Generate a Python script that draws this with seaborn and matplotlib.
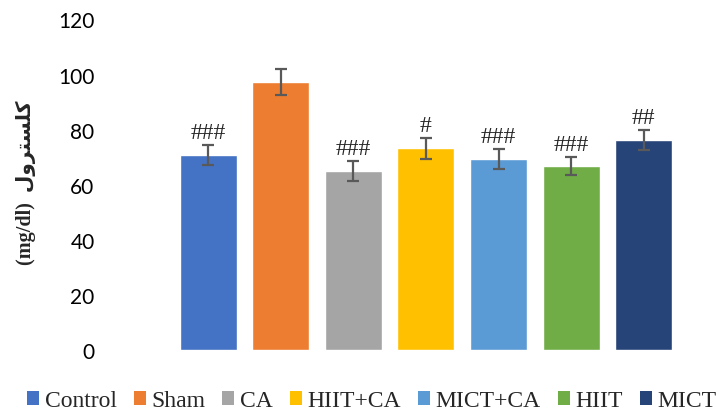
import numpy as np
import pandas as pd
import seaborn as sns
import matplotlib.pyplot as plt
from matplotlib.patches import Patch
from matplotlib.font_manager import FontProperties

groups = ["Control", "Sham", "CA", "HIIT+CA", "MICT+CA", "HIIT", "MICT"]
values = [70.8, 97.3, 65.0, 73.3, 69.4, 66.8, 76.3]
errors = [3.6, 4.8, 3.5, 3.8, 3.6, 3.4, 3.7]
marks = ["###", "", "###", "#", "###", "###", "##"]
colors = ["#4472C4", "#ED7D31", "#A5A5A5", "#FFC000", "#5B9BD5", "#70AD47", "#264478"]
yticks = [0, 20, 40, 60, 80, 100, 120]

df = pd.DataFrame({"group": groups, "value": values, "err": errors})

sns.set_style("white")
plt.rcParams['font.family'] = ['Lato', 'DejaVu Sans']

fig = plt.figure(figsize=(7.16, 4.14), dpi=100)
ax = fig.add_axes([105 / 716, 63 / 414, 600 / 716, 330.5 / 414])

sns.barplot(data=df, x="group", y="value", hue="group", order=groups,
            palette=colors, saturation=1, width=0.786, legend=False,
            errorbar=None, ax=ax)
ax.errorbar(np.arange(len(groups)), df["value"], yerr=df["err"], fmt="none",
            ecolor="#595959", elinewidth=1.6, capsize=4.3, capthick=1.6)

# significance marks above the error bars
for i, (v, e, m) in enumerate(zip(values, errors, marks)):
    if m:
        ax.annotate(m, (i, v + e), xytext=(0, 5), textcoords="offset points",
                    ha="center", va="baseline", fontsize=17,
                    family="Liberation Serif")

ax.set_xlim(-1.424, 6.846)
ax.set_ylim(0, 120)
ax.set_yticks(yticks)
ax.set_yticklabels([str(t) for t in yticks], fontsize=15, color="#000000")
ax.tick_params(axis="y", length=0, pad=7.5)
ax.set_xticks([])
ax.set_xlabel("")
sns.despine(ax=ax, left=True, bottom=True)

# y label: "(mg/dl)" plus Arabic word in shaped presentation forms (visual order)
arabic = "\uFEDD\uFEED\uFEAE\uFE98\uFEB4\uFEE0\uFEDB"
ax.set_ylabel("(mg/dl)  " + arabic, fontsize=14.5, fontweight="bold",
              family=["Liberation Serif", "DejaVu Sans"], va="center")
ax.yaxis.set_label_coords(-0.132, 0.51)

handles = [Patch(facecolor=c, edgecolor="none") for c in colors]
fig.legend(handles, groups, loc="center left", bbox_to_anchor=(27 / 716, 12 / 414),
           ncol=7, frameon=False, borderpad=0, borderaxespad=0,
           handlelength=0.5, handleheight=0.5, handletextpad=0.25,
           columnspacing=0.72,
           prop=FontProperties(family="Liberation Serif", size=17))

fig.savefig("out.png", dpi=100)
